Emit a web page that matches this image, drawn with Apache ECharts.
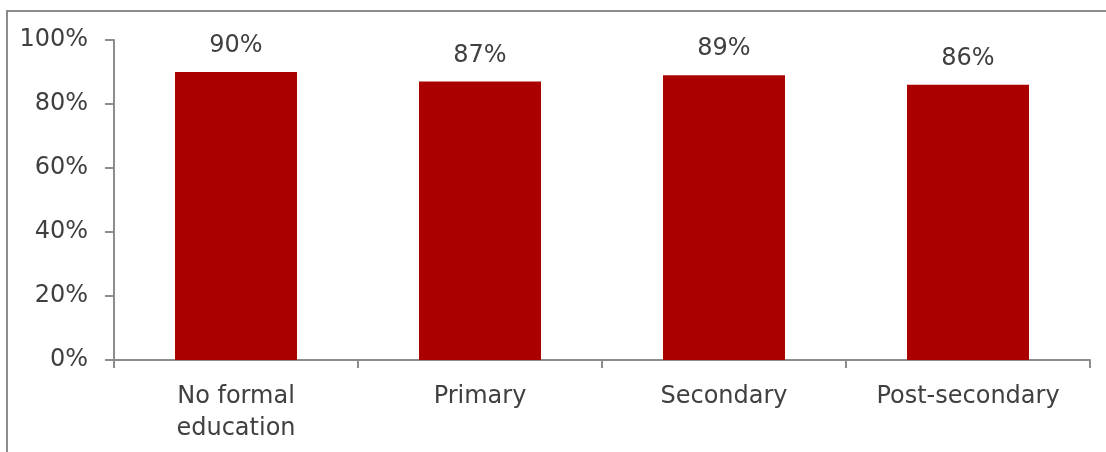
<!DOCTYPE html>
<html>
<head>
<meta charset="utf-8">
<script src="https://cdn.jsdelivr.net/npm/echarts@6/dist/echarts.min.js"></script>
<style>
  html, body { margin: 0; padding: 0; background: #fff; }
  #chart { width: 1106px; height: 452px; }
</style>
</head>
<body>
<div id="chart"></div>
<script>
// 数据
var categories = ['No formal\neducation', 'Primary', 'Secondary', 'Post-secondary'];
var values = [90, 87, 89, 86];
var yTicks = [0, 20, 40, 60, 80, 100];

var chart = echarts.init(document.getElementById('chart'));
var fontName = 'DejaVu Sans';

var option = {
    animation: false,
    grid: { left: 114, right: 16, top: 40, bottom: 92 },
    // 外框
    graphic: [{
        type: 'rect',
        shape: { x: 7, y: 11, width: 1200, height: 600 },
        style: { fill: 'none', stroke: '#8c8c8c', lineWidth: 2 },
        silent: true
    }],
    xAxis: {
        type: 'category',
        data: categories,
        axisLine: { lineStyle: { color: '#8c8c8c', width: 2 } },
        axisTick: { show: true, length: 8, lineStyle: { color: '#8c8c8c', width: 2 } },
        axisLabel: {
            color: '#404040', fontFamily: fontName, fontSize: 24,
            lineHeight: 32, margin: 21, interval: 0
        }
    },
    yAxis: {
        type: 'value',
        min: yTicks[0],
        max: yTicks[yTicks.length - 1],
        interval: 20,
        splitLine: { show: false },
        axisLine: { show: true, lineStyle: { color: '#8c8c8c', width: 2 } },
        axisTick: { show: true, length: 9, lineStyle: { color: '#8c8c8c', width: 2 } },
        axisLabel: {
            color: '#404040', fontFamily: fontName, fontSize: 24, margin: 26,
            formatter: function (v) { return v + '%'; }
        }
    },
    series: [{
        type: 'bar',
        data: values,
        barWidth: '50%',
        itemStyle: { color: '#aa0000' },
        label: {
            show: true,
            position: 'top',
            distance: 14,
            color: '#404040',
            fontFamily: fontName,
            fontSize: 24,
            formatter: '{c}%'
        }
    }]
};

chart.setOption(option);
</script>
</body>
</html>
